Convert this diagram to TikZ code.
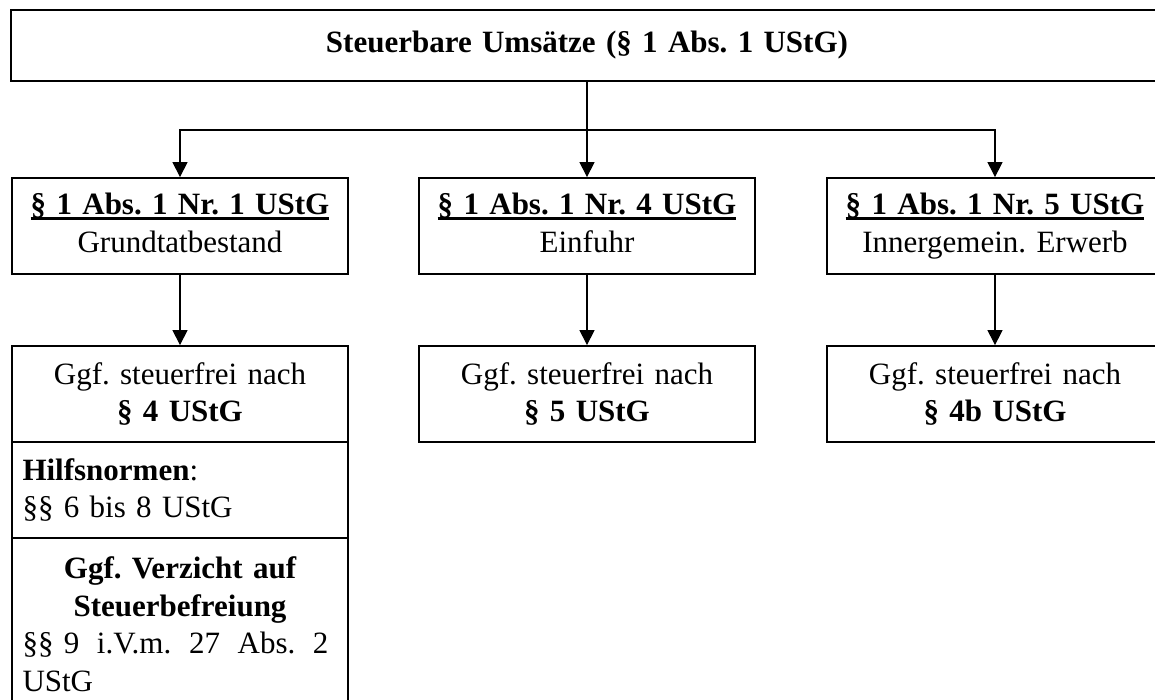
\documentclass[tikz,border=0pt]{standalone}
\usepackage{fontspec}
\setmainfont{Liberation Serif}
\usetikzlibrary{arrows.meta}
\frenchspacing
\newsavebox{\ulsavebox}
\newcommand{\ulbold}[1]{\sbox{\ulsavebox}{\bfseries #1}\rlap{\rule[-5pt]{\wd\ulsavebox}{2.4pt}}\usebox{\ulsavebox}}
\newcommand{\dstrut}{\vphantom{g}}
\begin{document}
\begin{tikzpicture}[x=1pt,y=-1pt,
  box/.style={draw, line width=1.8pt, rectangle, minimum height=96pt,
    text width=315pt, inner xsep=10.5pt, inner ysep=0pt, align=center,
    font=\fontsize{31}{37.5}\selectfont\frenchspacing},
  conn/.style={line width=1.2pt},
  arr/.style={conn, -{Triangle[length=15pt,width=15pt]}}]
\useasboundingbox (0,0) rectangle (1155,700);
\clip (0,0) rectangle (1155,700);
\fill[white] (0,0) rectangle (1155,700);

\node[box, minimum height=71pt, text width=1131pt] (top) at (587,45.5)
  {\bfseries Steuerbare Umsätze (§ 1 Abs. 1 UStG)};

\node[box] (l2a) at (180,226) {\ulbold{§ 1 Abs. 1 Nr. 1 UStG}\\ Grundtatbestand\dstrut};
\node[box] (l2b) at (587,226) {\ulbold{§ 1 Abs. 1 Nr. 4 UStG}\\ Einfuhr\dstrut};
\node[box] (l2c) at (995,226) {\ulbold{§ 1 Abs. 1 Nr. 5 UStG}\\ Innergemein. Erwerb\dstrut};

\node[box] (l3a) at (180,394) {Ggf. steuerfrei nach\\ \textbf{§ 4 UStG}};
\node[box] (l3b) at (587,394) {Ggf. steuerfrei nach\\ \textbf{§ 5 UStG}};
\node[box] (l3c) at (995,394) {Ggf. steuerfrei nach\\ \textbf{§ 4b UStG}};

\node[box, align=left] (hilf) at (180,490) {\textbf{Hilfsnormen}:\\ §§ 6 bis 8 UStG};
\node[box, align=left, minimum height=172pt] (verz) at (180,624)
  {\makebox[315pt]{\bfseries Ggf. Verzicht auf}\\
   \makebox[315pt]{\bfseries Steuerbefreiung}\\
   \leavevmode\hbox to 306pt{§§ 9\hfill i.V.m.\hfill 27\hfill Abs.\hfill 2}\\
   UStG};

\coordinate (j) at (587,130);
\draw[conn] (top.south) -- (j);
\draw[arr] (j) -| (l2a.north);
\draw[arr] (j) -- (l2b.north);
\draw[arr] (j) -| (l2c.north);
\draw[arr] (l2a.south) -- (l3a.north);
\draw[arr] (l2b.south) -- (l3b.north);
\draw[arr] (l2c.south) -- (l3c.north);
\end{tikzpicture}
\end{document}
